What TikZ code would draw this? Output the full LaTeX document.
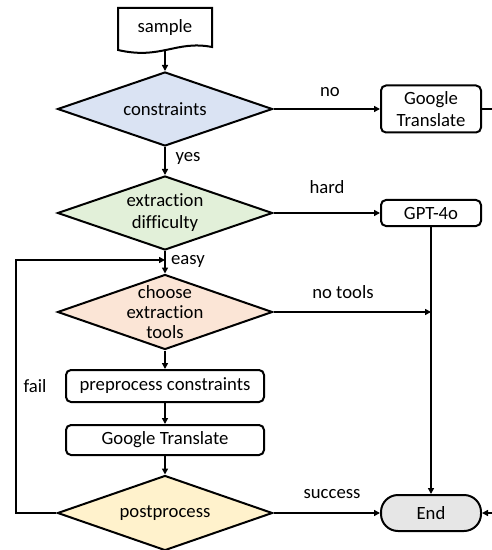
\documentclass[tikz,border=0pt]{standalone}
\usepackage{fontspec}
\setmainfont{Carlito}[Ligatures=NoCommon]
\usetikzlibrary{shapes.geometric,arrows.meta,calc}
\definecolor{cblue}{HTML}{DAE3F3}
\definecolor{cgreen}{HTML}{E2F0D9}
\definecolor{corange}{HTML}{FBE5D6}
\definecolor{cyellow}{HTML}{FFF2CC}
\definecolor{cgray}{HTML}{E6E6E6}
\tikzset{
  base/.style={line width=2bp, draw=black},
  dia/.style={base, diamond, minimum width=215bp, minimum height=74bp, inner sep=0pt},
  proc/.style={base, rectangle, rounded corners=5bp, inner sep=0pt, minimum width=100bp, align=center},
  wbox/.style={base, rectangle, rounded corners=5bp, inner sep=0pt, minimum width=198bp},
  txt/.style={inner sep=0pt, align=center},
  arr/.style={line width=2bp, -{Triangle[length=6bp,width=6bp]}},
}
\begin{document}
\begin{tikzpicture}[x=1bp,y=-1bp, font=\fontsize{18.7bp}{22bp}\selectfont]
\useasboundingbox (0,0) rectangle (492,550);
% sample (document shape)
\node[txt, minimum width=94bp, minimum height=42bp] (sample) at (165,29) {};
\draw[base, fill=white] (118,8) -- (212,8) -- (212,47) .. controls (176,40) and (161,60) .. (118,50) -- cycle;
\node[txt] at (165,28) {sample};
% diamonds
\node[dia, fill=cblue] (c1) at (165,109) {};
\node[txt] at (c1) {constraints};
\node[dia, fill=cgreen] (c2) at (165,213) {};
\node[txt] at (c2) {extraction\\difficulty};
\node[dia, fill=corange, minimum height=75bp] (c3) at (165,312) {};
\node[txt, font=\fontsize{18.7bp}{20bp}\selectfont] at (c3) {choose\\extraction\\tools};
\node[dia, fill=cyellow, minimum height=75bp] (c4) at (165,513) {};
\node[txt] at (c4) {postprocess};
% boxes
\node[wbox, minimum height=32bp] (pre) at (165,386) {preprocess constraints};
\node[wbox, minimum height=30bp] (gt2) at (165,440) {Google Translate};
\node[proc, minimum height=47bp] (gt1) at (431,109) {Google\\Translate};
\node[proc, minimum height=26bp] (gpt) at (431,213) {GPT-4o};
\node[base, rectangle, rounded corners=17bp, minimum width=100bp, minimum height=36bp, inner sep=0pt, fill=cgray] (end) at (431,513) {End};
% coordinates
\coordinate (join) at (165,260);
\coordinate (tl) at (16,260);
\coordinate (nt) at (gpt.south |- c3.east);
% connectors
\draw[arr] (sample.south) -- (c1.north);
\draw[arr] (c1.south) -- (c2.north);
\draw[arr] (c2.south) -- (c3.north);
\draw[arr] (c3.south) -- (pre.north);
\draw[arr] (pre.south) -- (gt2.north);
\draw[arr] (gt2.south) -- (c4.north);
\draw[arr] (c1.east) -- (gt1.west);
\draw[arr] (c2.east) -- (gpt.west);
\draw[arr] (c3.east) -- (nt);
\draw[arr] (gpt.south) -- (end.north);
\draw[arr] (c4.east) -- (end.west);
\draw[arr] (c4.west) -| (tl) -- (join);
\draw[arr] (gt1.east) -- ++(25,0) |- (end.east);
% labels
\node[txt] at (330,92) {no};
\node[txt] at (188,158) {yes};
\node[txt] at (327,187) {hard};
\node[txt] at (188,261) {easy};
\node[txt] at (343,292) {no tools};
\node[txt] at (35,386) {fail};
\node[txt] at (332,494) {success};
\end{tikzpicture}
\end{document}
